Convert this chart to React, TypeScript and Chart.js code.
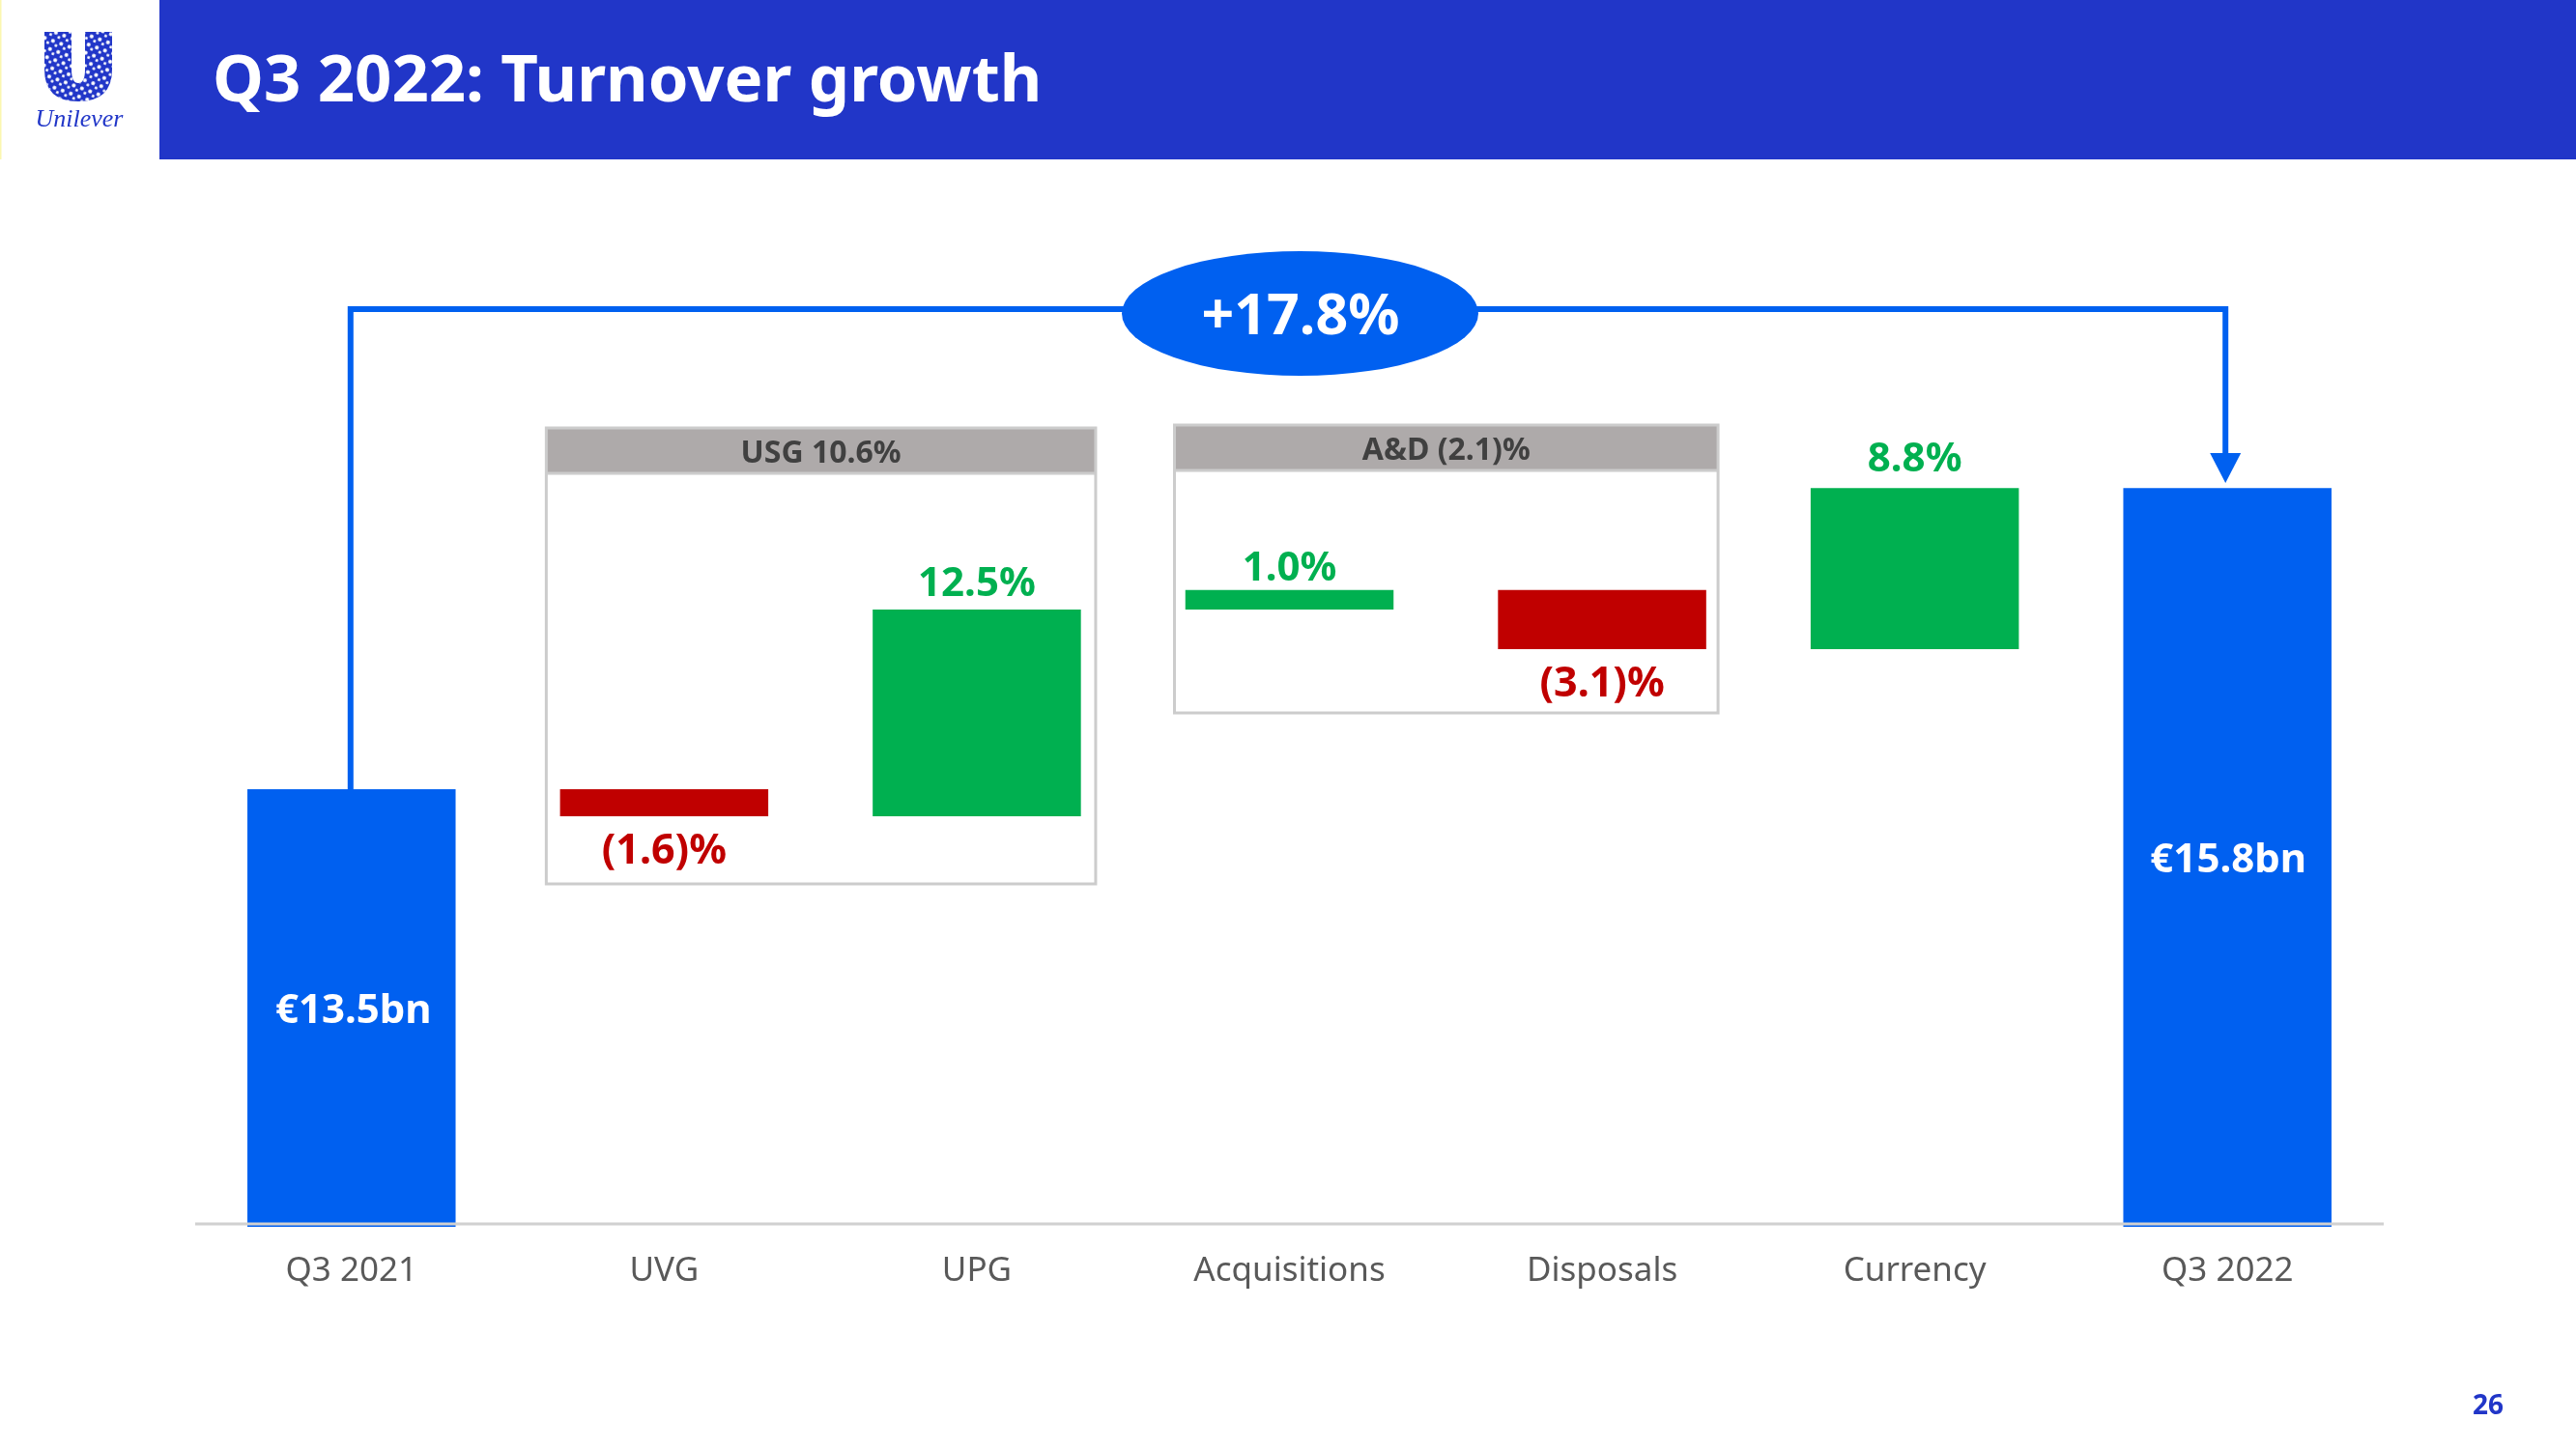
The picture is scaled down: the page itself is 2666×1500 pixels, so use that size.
import React, { useEffect, useRef } from "react";
import { Chart, registerables } from "chart.js";

Chart.register(...registerables);

const categories = ["Q3 2021", "UVG", "UPG", "Acquisitions", "Disposals", "Currency", "Q3 2022"];
// Waterfall positions, in points of the drawn (truncated) axis
const barFrom = [-0.167, 25.0, 23.44, 35.33, 36.46, 33.06, -0.167];
const barTo = [25.0, 23.44, 35.33, 36.46, 33.06, 42.32, 42.32];
const valueLabels = ["€13.5bn", "(1.6)%", "12.5%", "1.0%", "(3.1)%", "8.8%", "€15.8bn"];
const barColors = ["#0060F0", "#C00000", "#00B050", "#00B050", "#C00000", "#00B050", "#0060F0"];
const totalGrowth = "+17.8%";
const groupUSG = "USG 10.6%";
const groupAD = "A&D (2.1)%";
const titleText = "Q3 2022: Turnover growth";
const pageNumber = "26";

const FONT = '"Noto Sans", sans-serif';
const BLUE = "#0060F0";
const NAVY = "#2136C8";
const U_PATH = "M46 33 H74 V72 Q74 86 81 86 Q88 86 88 72 V33 H116 V72 Q116 105 81 105 Q46 105 46 72 Z";

const overlay = {
  id: "slideOverlay",
  beforeDatasetsDraw(chart: any) {
    const { ctx, scales } = chart;
    const x = scales.x;
    const group = (left: number, right: number, top: number, head: number, bottom: number, label: string, ty: number) => {
      ctx.save();
      ctx.fillStyle = "#AEAAAA";
      ctx.fillRect(left, top, right - left, head - top);
      ctx.strokeStyle = "#CCCCCC";
      ctx.lineWidth = 3;
      ctx.strokeRect(left, top, right - left, bottom - top);
      ctx.beginPath();
      ctx.moveTo(left, head);
      ctx.lineTo(right, head);
      ctx.stroke();
      ctx.fillStyle = "#404040";
      ctx.font = `bold 32px ${FONT}`;
      ctx.textAlign = "center";
      ctx.textBaseline = "middle";
      ctx.fillText(label, (left + right) / 2, ty);
      ctx.restore();
    };
    group(x.getPixelForValue(1) - 122, x.getPixelForValue(2) + 123, 443, 490, 915, groupUSG, 470);
    group(x.getPixelForValue(3) - 119, x.getPixelForValue(4) + 120, 440, 487, 738, groupAD, 467);
  },
  afterDatasetsDraw(chart: any) {
    const { ctx, scales } = chart;
    const x = scales.x;
    const y = scales.y;
    const bar = chart.getDatasetMeta(0).data;
    ctx.save();

    // baseline, over the bars
    ctx.strokeStyle = "#D0D0D0";
    ctx.lineWidth = 3;
    ctx.beginPath();
    ctx.moveTo(chart.chartArea.left, y.getPixelForValue(0));
    ctx.lineTo(chart.chartArea.right, y.getPixelForValue(0));
    ctx.stroke();

    // connector
    const lx = x.getPixelForValue(0) - 1;
    const rx = x.getPixelForValue(6) - 2;
    const cy = 320;
    ctx.strokeStyle = BLUE;
    ctx.lineWidth = 6;
    ctx.beginPath();
    ctx.moveTo(lx, y.getPixelForValue(barTo[0]));
    ctx.lineTo(lx, cy);
    ctx.lineTo(rx, cy);
    ctx.lineTo(rx, 472);
    ctx.stroke();
    ctx.fillStyle = BLUE;
    ctx.beginPath();
    ctx.moveTo(rx - 16, 469);
    ctx.lineTo(rx + 16, 469);
    ctx.lineTo(rx, 500);
    ctx.closePath();
    ctx.fill();

    // growth bubble
    ctx.beginPath();
    ctx.ellipse(1345.5, 324.5, 184.5, 64.5, 0, 0, Math.PI * 2);
    ctx.fill();
    ctx.fillStyle = "#FFFFFF";
    ctx.font = `bold 59px ${FONT}`;
    ctx.textAlign = "center";
    ctx.textBaseline = "middle";
    ctx.fillText(totalGrowth, 1346, 329);

    // value labels
    valueLabels.forEach((text, i) => {
      const el = bar[i];
      const from = barFrom[i];
      const to = barTo[i];
      ctx.fillStyle = barColors[i];
      if (i === 0 || i === 6) {
        ctx.fillStyle = "#FFFFFF";
        ctx.font = `bold 42px ${FONT}`;
        ctx.fillText(text, el.x + (i === 0 ? 2 : 1), i === 0 ? 1047 : 891);
      } else if (to > from) {
        ctx.font = `bold 42px ${FONT}`;
        ctx.fillText(text, el.x, y.getPixelForValue(to) - (i === 3 ? 22 : i === 5 ? 29 : 26));
      } else {
        ctx.font = `bold 43px ${FONT}`;
        ctx.fillText(text, el.x, y.getPixelForValue(to) + 37);
      }
    });
    ctx.restore();
  },
};

function Logo() {
  return (
    <svg width="165" height="165" style={{ position: "absolute", left: 0, top: 0 }}>
      <defs>
        <pattern id="uPat" width="9" height="9" patternUnits="userSpaceOnUse" patternTransform="rotate(20)">
          <circle cx="3" cy="3" r="2" fill="#fff" />
          <circle cx="7.5" cy="6.5" r="1.5" fill="#fff" />
        </pattern>
      </defs>
      <rect x="0" y="0" width="1.5" height="165" fill="#FBF7B0" />
      <path d={U_PATH} fill={NAVY} />
      <path d={U_PATH} fill="url(#uPat)" />
      <text x="82" y="131" textAnchor="middle" fontFamily='"Liberation Serif", serif' fontStyle="italic" fontSize="26" fill={NAVY}>
        Unilever
      </text>
    </svg>
  );
}

export default function App() {
  const ref = useRef<HTMLCanvasElement>(null);

  useEffect(() => {
    const chart = new Chart(ref.current as HTMLCanvasElement, {
      type: "bar",
      data: {
        labels: categories,
        datasets: [
          {
            data: barFrom.map((f, i) => [f, barTo[i]]) as any,
            backgroundColor: barColors,
            borderWidth: 0,
            barPercentage: 0.666,
            categoryPercentage: 1,
          },
        ],
      },
      options: {
        animation: false,
        responsive: false,
        layout: { padding: { left: 202, right: 199, top: 187, bottom: 0 } },
        plugins: { legend: { display: false }, tooltip: { enabled: false }, title: { display: false } },
        scales: {
          x: {
            border: { display: false },
            grid: { display: false },
            afterFit: (s: any) => {
              s.height = 230;
            },
            ticks: {
              color: "#595959",
              padding: 17,
              maxRotation: 0,
              font: { family: '"Noto Sans", sans-serif', size: 35 },
            },
          },
          y: { display: false, min: -1 / 6, max: 60 },
        },
      },
      plugins: [overlay],
    });
    return () => chart.destroy();
  }, []);

  return (
    <div style={{ position: "fixed", left: 0, top: 0, width: 2666, height: 1500, background: "#fff", overflow: "hidden" }}>
      <canvas ref={ref} width={2666} height={1500} style={{ position: "absolute", left: 0, top: 0 }} />
      <Logo />
      <div style={{ position: "absolute", left: 165, top: 0, right: 0, height: 165, background: NAVY }} />
      <div
        style={{
          position: "absolute",
          left: 220,
          top: 34,
          color: "#fff",
          font: `bold 67px ${FONT}`,
          lineHeight: "90px",
          whiteSpace: "nowrap",
        }}
      >
        {titleText}
      </div>
      <div
        style={{
          position: "absolute",
          left: 2555,
          top: 1434,
          width: 40,
          textAlign: "center",
          color: NAVY,
          font: `bold 28px ${FONT}`,
          lineHeight: "38px",
        }}
      >
        {pageNumber}
      </div>
    </div>
  );
}
